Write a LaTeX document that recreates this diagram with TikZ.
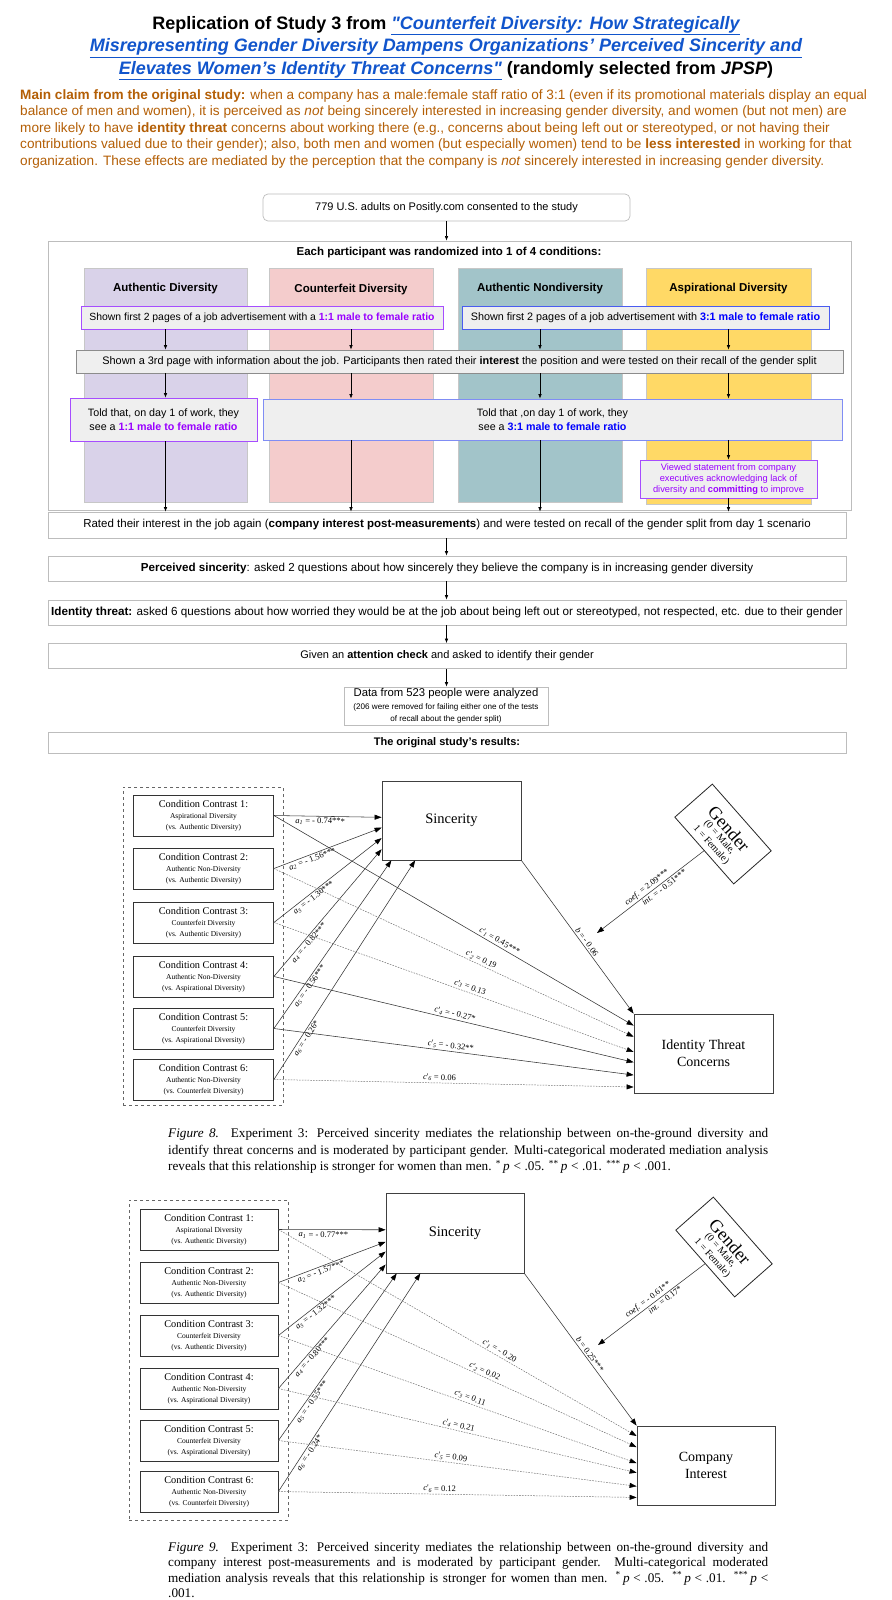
\documentclass[tikz,border=0pt]{standalone}
\usepackage{fontspec}
\setmainfont{Liberation Sans}
\newfontfamily\tms{Liberation Serif}
\usetikzlibrary{arrows.meta,calc}
\definecolor{linkblue}{HTML}{1155CC}
\definecolor{claim}{HTML}{B45F06}
\definecolor{lav}{HTML}{D9D2E9}
\definecolor{pinkc}{HTML}{F4CCCC}
\definecolor{tealc}{HTML}{A2C4C9}
\definecolor{yelc}{HTML}{FFD966}
\definecolor{purp}{HTML}{9900FF}
\definecolor{bluet}{HTML}{0000FF}
\definecolor{boxgray}{HTML}{EFEFEF}
\definecolor{edgegray}{HTML}{BDBDBD}
\definecolor{purpedge}{HTML}{A64DFF}
\definecolor{blueedge}{HTML}{4A5CF0}
\newcommand\setfs[2]{\fontsize{#1}{#2}\selectfont}
\newcommand\av[1]{\textit{a}\textsubscript{\textit{#1}}}
\newcommand\cv[1]{\textit{c}'\textsubscript{\textit{#1}}}
\newcommand\sig[2]{\textsuperscript{#1}\,\textit{p}\hspace{0.28em}<\hspace{0.28em}#2}
\newcommand\condtxt[3]{\setfs{10.3}{12}Condition Contrast #1:\\[-1pt]\setfs{7.5}{9}#2\\[-1pt]\setfs{7.5}{9}#3}
\tikzset{
  fbox/.style={draw=edgegray, line width=0.7pt, fill=white, inner sep=0pt, align=center, font=\setfs{11}{13}},
  gbox/.style={fbox, fill=boxgray},
  colbox/.style={draw=black!22, line width=0.6pt, inner sep=0pt, minimum height=234pt},
  hdr/.style={font=\bfseries\setfs{11.5}{13}, inner sep=0pt},
  farr/.style={-{Latex[length=4.5pt,width=3.5pt]}, line width=0.6pt, black},
  cond/.style={draw=black!80, line width=0.8pt, fill=white, minimum height=41pt, inner sep=0pt, align=center, font=\tms},
  bigbox/.style={draw=black!75, line width=0.8pt, fill=white, inner sep=0pt, align=center, font=\tms\setfs{14}{17}},
  solarr/.style={draw=black!80, line width=0.55pt, -{Triangle[length=7pt,width=5pt,color=black]}},
  dsharr/.style={draw=black!55, line width=0.5pt, dash pattern=on 1.6pt off 1.2pt, -{Triangle[length=7pt,width=5pt,color=black]}},
  lab/.style={font=\tms\setfs{8.5}{10}, inner sep=1.5pt, sloped},
  gend/.style={draw=black!85, line width=0.8pt, fill=white, minimum width=89pt, minimum height=50pt, inner sep=0pt, rotate=-48.6},
  gbig/.style={inner sep=0pt, rotate=-48.6, font=\tms\setfs{18}{18}},
  gsmall/.style={inner sep=0pt, rotate=-48.6, font=\tms\setfs{10}{11}},
  dashbox/.style={draw=black!60, dashed, line width=0.6pt, inner sep=0pt},
  capline/.style={anchor=base west, inner sep=0pt, font=\tms\setfs{13.2}{15}},
}
\begin{document}
\begin{tikzpicture}[x=1pt,y=-1pt]
\fill[white] (0,0) rectangle (891,1600);
\useasboundingbox (0,0) rectangle (891,1600);

% ---------- title ----------
\node[align=center, font=\bfseries\setfs{18}{22.5}, inner sep=0pt] (title) at (446,48) {Replication of Study 3 from \textcolor{linkblue}{\textit{\underline{\textquotedbl Counterfeit Diversity: How Strategically}}}\\
\textcolor{linkblue}{\textit{\underline{Misrepresenting Gender Diversity Dampens Organizations' Perceived Sincerity and}}}\\
\textcolor{linkblue}{\textit{\underline{Elevates Women's Identity Threat Concerns\textquotedbl}}} (randomly selected from \textit{JPSP})};

\node[anchor=north west, align=left, inner sep=0pt, font=\setfs{13.6}{16.5}, text=claim] (claim) at (20,89) {\textbf{Main claim from the original study:} when a company has a male:female staff ratio of 3:1 (even if its promotional materials display an equal\\
balance of men and women), it is perceived as \textit{not} being sincerely interested in increasing gender diversity, and women (but not men) are\\
more likely to have \textbf{identity threat} concerns about working there (e.g., concerns about being left out or stereotyped, or not having their\\
contributions valued due to their gender); also, both men and women (but especially women) tend to be \textbf{less interested} in working for that\\
organization. These effects are mediated by the perception that the company is \textit{not} sincerely interested in increasing gender diversity.};

% ---------- flowchart ----------
\node[fbox, rounded corners=5pt, minimum width=367pt, minimum height=27pt] (A) at (446.5,207.5) {779 U.S. adults on Positly.com consented to the study};
\node[draw=edgegray, line width=0.8pt, minimum width=803pt, minimum height=269pt, inner sep=0pt] (outer) at (449.5,375.5) {};
\draw[farr] (A.south) -- (A.south |- outer.north);
\node[hdr] (head) at (449,253) {Each participant was randomized into 1 of 4 conditions:};

\node[colbox, fill=lav, minimum width=163pt] (col1) at (165.5,385) {};
\node[colbox, fill=pinkc, minimum width=164pt] (col2) at (351,385) {};
\node[colbox, fill=tealc, minimum width=164pt] (col3) at (540,385) {};
\node[colbox, fill=yelc, minimum width=165pt, minimum height=236pt] (col4) at (728.5,386) {};
\node[hdr] (h1) at (165.5,289) {Authentic Diversity};
\node[hdr] (h2) at (351,290) {Counterfeit Diversity};
\node[hdr] (h3) at (540,289) {Authentic Nondiversity};
\node[hdr] (h4) at (728.5,289) {Aspirational Diversity};

\node[gbox, draw=purpedge, minimum width=362pt, minimum height=23pt, font=\setfs{10.4}{12}] (S1) at (262,317.5) {Shown first 2 pages of a job advertisement with a \textcolor{purp}{\textbf{1:1 male to female ratio}}};
\node[gbox, draw=blueedge, minimum width=367pt, minimum height=23pt, font=\setfs{10.8}{12}] (S2) at (645.5,317.5) {Shown first 2 pages of a job advertisement with \textcolor{bluet}{\textbf{3:1 male to female ratio}}};
\node[gbox, draw=black!45, minimum width=767pt, minimum height=23pt, font=\setfs{10.9}{12}] (S3) at (459.5,361.5) {Shown a 3rd page with information about the job. Participants then rated their \textbf{interest} the position and were tested on their recall of the gender split};
\node[gbox, draw=purpedge, minimum width=187pt, minimum height=43pt, font=\setfs{10.7}{13.5}] (T1) at (163.5,419.5) {Told that, on day 1 of work, they\\see a \textcolor{purp}{\textbf{1:1 male to female ratio}}};
\node[gbox, draw=blueedge!70, minimum width=579pt, minimum height=41pt, font=\setfs{10.7}{13.5}] (T2) at (552.5,419.5) {Told that ,on day 1 of work, they\\see a \textcolor{bluet}{\textbf{3:1 male to female ratio}}};
\node[gbox, draw=purpedge, minimum width=177pt, minimum height=38pt, font=\setfs{9.3}{11.3}, text=purp] (V) at (728.5,479) {Viewed statement from company\\executives acknowledging lack of\\diversity and \textbf{committing} to improve};

\node[fbox, minimum width=798pt, minimum height=26pt, font=\setfs{11.5}{13}] (R) at (447,525) {Rated their interest in the job again (\textbf{company interest post-measurements}) and were tested on recall of the gender split from day 1 scenario};
\node[fbox, minimum width=798pt, minimum height=25pt, font=\setfs{11.6}{13}] (P) at (447,568.5) {\textbf{Perceived sincerity}: asked 2 questions about how sincerely they believe the company is in increasing gender diversity};
\node[fbox, minimum width=798pt, minimum height=25pt, font=\setfs{11.7}{13}] (I) at (447,612.5) {\textbf{Identity threat:} asked 6 questions about how worried they would be at the job about being left out or stereotyped, not respected, etc. due to their gender};
\node[fbox, minimum width=798pt, minimum height=25pt] (G) at (447,656) {Given an \textbf{attention check} and asked to identify their gender};
\node[fbox, minimum width=204pt, minimum height=38pt] (D) at (446,706) {\setfs{11.3}{13}Data from 523 people were analyzed\\[0pt]\setfs{8.1}{9.5}(206 were removed for failing either one of the tests\\[-1pt]\setfs{8.1}{9.5}of recall about the gender split)};
\node[fbox, minimum width=798pt, minimum height=21pt] (Res) at (447,742.5) {\textbf{The original study's results:}};

\draw[farr] (S1.south -| col1) -- (S3.north -| col1);
\draw[farr] (S1.south -| col2) -- (S3.north -| col2);
\draw[farr] (S2.south -| col3) -- (S3.north -| col3);
\draw[farr] (S2.south -| col4) -- (S3.north -| col4);
\draw[farr] (S3.south -| col1) -- (T1.north -| col1);
\draw[farr] (S3.south -| col2) -- (T2.north -| col2);
\draw[farr] (S3.south -| col3) -- (T2.north -| col3);
\draw[farr] (S3.south -| col4) -- (T2.north -| col4);
\draw[farr] (T1.south -| col1) -- (R.north -| col1);
\draw[farr] (T2.south -| col2) -- (R.north -| col2);
\draw[farr] (T2.south -| col3) -- (R.north -| col3);
\draw[farr] (T2.south -| col4) -- (V.north -| col4);
\draw[farr] (V.south -| col4) -- (R.north -| col4);
\draw[farr] (R.south -| A) -- (P.north -| A);
\draw[farr] (P.south -| A) -- (I.north -| A);
\draw[farr] (I.south -| A) -- (G.north -| A);
\draw[farr] (G.south -| A) -- (D.north -| A);

% ---------- Figure 8 ----------
\node[dashbox, minimum width=160pt, minimum height=318pt] (dash8) at (203,946) {};
\node[cond, minimum width=140pt] (c81) at (203.5,815.5) {\condtxt{1}{Aspirational Diversity}{(vs. Authentic Diversity)}};
\node[cond, minimum width=140pt] (c82) at (203.5,868.5) {\condtxt{2}{Authentic Non-Diversity}{(vs. Authentic Diversity)}};
\node[cond, minimum width=140pt] (c83) at (203.5,922.5) {\condtxt{3}{Counterfeit Diversity}{(vs. Authentic Diversity)}};
\node[cond, minimum width=140pt] (c84) at (203.5,976.5) {\condtxt{4}{Authentic Non-Diversity}{(vs. Aspirational Diversity)}};
\node[cond, minimum width=140pt] (c85) at (203.5,1028.5) {\condtxt{5}{Counterfeit Diversity}{(vs. Aspirational Diversity)}};
\node[cond, minimum width=140pt] (c86) at (203.5,1079.5) {\condtxt{6}{Authentic Non-Diversity}{(vs. Counterfeit Diversity)}};
\node[bigbox, minimum width=139pt, minimum height=79pt, font=\tms\setfs{14.5}{17}] (s8) at (451.5,820.5) {Sincerity};
\node[bigbox, minimum width=139pt, minimum height=79pt] (t8) at (703.5,1053.5) {Identity Threat\\Concerns};
\node[gend] (g8) at (723,834) {};
\node[gbig] (g8a) at (729.0,828.7) {Gender};
\node[gsmall] (g8b) at (719.3,837.3) {(0 = Male,};
\node[gsmall] (g8c) at (711.0,845.0) {1 = Female)};
\coordinate (gt8) at (597,933);

\draw[solarr] (c81.east) -- node[lab,below,pos=0.43]{\av{1} = - 0.74***} ($(s8.north west)!0.46!(s8.south west)$);
\draw[solarr] (c82.east) -- node[lab,below,pos=0.34]{\av{2} = - 1.56***} ($(s8.north west)!0.59!(s8.south west)$);
\draw[solarr] (c83.east) -- node[lab,below,pos=0.34]{\av{3} = - 1.30***} ($(s8.north west)!0.72!(s8.south west)$);
\draw[solarr] (c84.east) -- node[lab,below,pos=0.29]{\av{4} = - 0.82***} ($(s8.north west)!0.86!(s8.south west)$);
\draw[solarr] (c85.east) -- node[lab,below,pos=0.27]{\av{5} = - 0.56***} ($(s8.south west)!0.07!(s8.south east)$);
\draw[solarr] (c86.east) -- node[lab,below,pos=0.2]{\av{6} = - 0.26*} ($(s8.south west)!0.24!(s8.south east)$);

\draw[solarr] (c81.east) -- node[lab,above,pos=0.62]{\cv{1} = 0.45***} ($(t8.north west)!0.15!(t8.south west)$);
\draw[dsharr] (c82.east) -- node[lab,above,pos=0.57]{\cv{2} = 0.19} ($(t8.north west)!0.29!(t8.south west)$);
\draw[dsharr] (c83.east) -- node[lab,above,pos=0.54]{\cv{3} = 0.13} ($(t8.north west)!0.48!(t8.south west)$);
\draw[solarr] (c84.east) -- node[lab,above,pos=0.5]{\cv{4} = - 0.27*} ($(t8.north west)!0.61!(t8.south west)$);
\draw[solarr] (c85.east) -- node[lab,above,pos=0.49]{\cv{5} = - 0.32**} ($(t8.north west)!0.77!(t8.south west)$);
\draw[dsharr] (c86.east) -- node[lab,above,pos=0.46]{\cv{6} = 0.06} ($(t8.north west)!0.92!(t8.south west)$);

\draw[solarr] (s8.south east) -- node[lab,above,pos=0.55]{\textit{b} = - 0.06} (t8.north west);
\draw[solarr] (g8.south) -- node[lab,above,pos=0.5]{\textit{coef.} = 2.09***} node[lab,below,pos=0.4]{\textit{int.} = - 0.51***} (gt8);

\node[capline] (cap8a) at (168,1137) {\hbox to 600pt{\textit{Figure 8.}\hspace{0.9em}Experiment 3: Perceived sincerity mediates the relationship between on-the-ground diversity and}};
\node[capline] (cap8b) at (168,1154) {\hbox to 600pt{identify threat concerns and is moderated by participant gender. Multi-categorical moderated mediation analysis}};
\node[capline] (cap8c) at (168,1170.5) {reveals that this relationship is stronger for women than men. \sig{*}{.05}. \sig{**}{.01}. \sig{***}{.001}.};

% ---------- Figure 9 ----------
\node[dashbox, minimum width=159pt, minimum height=320pt] (dash9) at (208.5,1360) {};
\node[cond, minimum width=138pt] (c91) at (209,1229.5) {\condtxt{1}{Aspirational Diversity}{(vs. Authentic Diversity)}};
\node[cond, minimum width=138pt] (c92) at (209,1282.5) {\condtxt{2}{Authentic Non-Diversity}{(vs. Authentic Diversity)}};
\node[cond, minimum width=138pt] (c93) at (209,1335.5) {\condtxt{3}{Counterfeit Diversity}{(vs. Authentic Diversity)}};
\node[cond, minimum width=138pt] (c94) at (209,1388.5) {\condtxt{4}{Authentic Non-Diversity}{(vs. Aspirational Diversity)}};
\node[cond, minimum width=138pt] (c95) at (209,1440.5) {\condtxt{5}{Counterfeit Diversity}{(vs. Aspirational Diversity)}};
\node[cond, minimum width=138pt] (c96) at (209,1491.5) {\condtxt{6}{Authentic Non-Diversity}{(vs. Counterfeit Diversity)}};
\node[bigbox, minimum width=138pt, minimum height=80pt, font=\tms\setfs{14.5}{17}] (s9) at (455,1233) {Sincerity};
\node[bigbox, minimum width=138pt, minimum height=79pt] (t9) at (706,1465.5) {Company\\Interest};
\node[gend] (g9) at (724,1247) {};
\node[gbig] (g9a) at (730.0,1241.7) {Gender};
\node[gsmall] (g9b) at (720.3,1250.3) {(0 = Male,};
\node[gsmall] (g9c) at (712.0,1258.0) {1 = Female)};
\coordinate (gt9) at (598,1345);

\draw[solarr] (c91.east) -- node[lab,below,pos=0.42]{\av{1} = - 0.77***} ($(s9.north west)!0.46!(s9.south west)$);
\draw[solarr] (c92.east) -- node[lab,below,pos=0.38]{\av{2} = - 1.57***} ($(s9.north west)!0.61!(s9.south west)$);
\draw[solarr] (c93.east) -- node[lab,below,pos=0.32]{\av{3} = - 1.32***} ($(s9.north west)!0.73!(s9.south west)$);
\draw[solarr] (c94.east) -- node[lab,below,pos=0.28]{\av{4} = - 0.80***} ($(s9.north west)!0.89!(s9.south west)$);
\draw[solarr] (c95.east) -- node[lab,below,pos=0.25]{\av{5} = - 0.55***} ($(s9.south west)!0.08!(s9.south east)$);
\draw[solarr] (c96.east) -- node[lab,below,pos=0.19]{\av{6} = - 0.24*} ($(s9.south west)!0.25!(s9.south east)$);

\draw[dsharr] (c91.east) -- node[lab,above,pos=0.61]{\cv{1} = - 0.20} ($(t9.north west)!0.13!(t9.south west)$);
\draw[dsharr] (c92.east) -- node[lab,above,pos=0.57]{\cv{2} = 0.02} ($(t9.north west)!0.27!(t9.south west)$);
\draw[dsharr] (c93.east) -- node[lab,above,pos=0.53]{\cv{3} = 0.11} ($(t9.north west)!0.47!(t9.south west)$);
\draw[dsharr] (c94.east) -- node[lab,above,pos=0.5]{\cv{4} = 0.21} ($(t9.north west)!0.59!(t9.south west)$);
\draw[dsharr] (c95.east) -- node[lab,above,pos=0.48]{\cv{5} = 0.09} ($(t9.north west)!0.76!(t9.south west)$);
\draw[dsharr] (c96.east) -- node[lab,above,pos=0.45]{\cv{6} = 0.12} ($(t9.north west)!0.90!(t9.south west)$);

\draw[solarr] (s9.south east) -- node[lab,above,pos=0.55]{\textit{b} = 0.25***} (t9.north west);
\draw[solarr] (g9.south) -- node[lab,above,pos=0.5]{\textit{coef.} = - 0.61**} node[lab,below,pos=0.4]{\textit{int.} = 0.17*} (gt9);

\node[capline] (cap9a) at (168,1551) {\hbox to 600pt{\textit{Figure 9.}\hspace{0.9em}Experiment 3: Perceived sincerity mediates the relationship between on-the-ground diversity and}};
\node[capline] (cap9b) at (168,1566.5) {\hbox to 600pt{company interest post-measurements and is moderated by participant gender. Multi-categorical moderated}};
\node[capline] (cap9c) at (168,1582) {\hbox to 600pt{mediation analysis reveals that this relationship is stronger for women than men. \sig{*}{.05}. \sig{**}{.01}. \textsuperscript{***}\,\textit{p}\hspace{0.28em}<}};
\node[capline] (cap9d) at (168,1597.5) {.001.};
\end{tikzpicture}
\end{document}
